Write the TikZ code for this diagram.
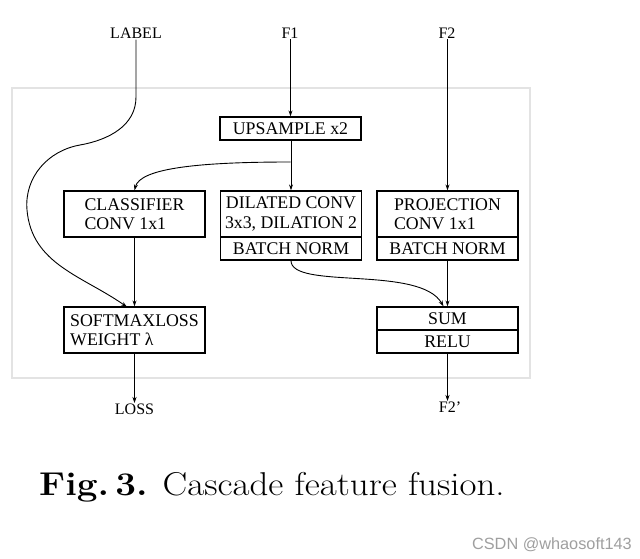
\documentclass[tikz,border=0pt]{standalone}
\usepackage{fontspec}
\newfontfamily\diagfont{Liberation Serif}
\newfontfamily\wmfont{Liberation Sans}
\usetikzlibrary{arrows.meta}
\begin{document}
\begin{tikzpicture}[x=1pt,y=-1pt,
  box/.style={draw,line width=1.2pt,minimum width=141pt,inner sep=1pt,
    font=\diagfont\fontsize{17.8}{19.5}\selectfont,align=left},
  tall/.style={box,minimum height=46pt},
  short/.style={box,minimum height=23pt},
  io/.style={font=\diagfont\fontsize{16}{18}\selectfont,inner sep=1pt},
  arr/.style={line width=0.9pt,-{Stealth[length=6pt,width=4pt]}}]
\useasboundingbox (0,0) rectangle (640,559);
\draw[gray!22,line width=1.6pt] (12,88) rectangle (530,378);

\node[io] (lab) at (136,33) {LABEL};
\node[io] (f1) at (290,33) {F1};
\node[io] (f2) at (447,33) {F2};

\node[short] (up) at (290.5,128.5) {UPSAMPLE x2};
\node[tall] (cls) at (134.5,214) {CLASSIFIER\\CONV 1x1};
\node[tall,align=center] (dil) at (291,214) {DILATED CONV\\3x3, DILATION 2};
\node[short] (dilbn) at (291,248.5) {BATCH NORM};
\node[tall] (proj) at (447.5,214) {PROJECTION\\CONV 1x1};
\node[short] (projbn) at (447.5,248.5) {BATCH NORM};
\node[tall] (soft) at (134.5,330) {SOFTMAXLOSS\\WEIGHT λ};
\node[short] (sum) at (447.5,318.5) {SUM};
\node[short] (relu) at (447.5,341.5) {RELU};

\node[io,anchor=north] (loss) at (134.5,403) {LOSS};
\node[io,anchor=north] (f2p) at (450,401) {F2’};

\coordinate (br) at (290.5,162);
\coordinate (labend) at (127,307);

\draw[arr] (up.north |- f1.south) -- (up.north);
\draw[arr] (proj.north |- f2.south) -- (proj.north);
\draw[arr] (up.south) -- (dil.north |- up.south) -- (dil.north);
\draw[arr] (br) .. controls (200,162) and (140,168) .. (cls.north);
\draw[arr] (lab.south) -- (136,97) to[out=-90,in=10] (80,145)
  to[out=190,in=95] (27,210) to[out=-85,in=145] (labend);
\draw[arr] (cls.south) -- (soft.north);
\draw[arr] (dilbn.south) .. controls (291,290) and (420,265) .. ([xshift=-4pt]sum.north);
\draw[arr] (projbn.south) -- (sum.north);
\draw[arr] (soft.south) -- (loss.north);
\draw[arr] (relu.south) -- (relu.south |- f2p.north);

\node[anchor=base west,inner sep=0pt] (cap) at (39,495)
  {\scalebox{1.12}[1]{\fontsize{33}{36}\selectfont\textbf{Fig.\,3.} Cascade feature fusion.}};
\node[anchor=base east,inner sep=0pt,text=gray!75,font=\wmfont\fontsize{16.3}{18}\selectfont] (wm) at (632,549) {CSDN @whaosoft143};
\end{tikzpicture}
\end{document}
